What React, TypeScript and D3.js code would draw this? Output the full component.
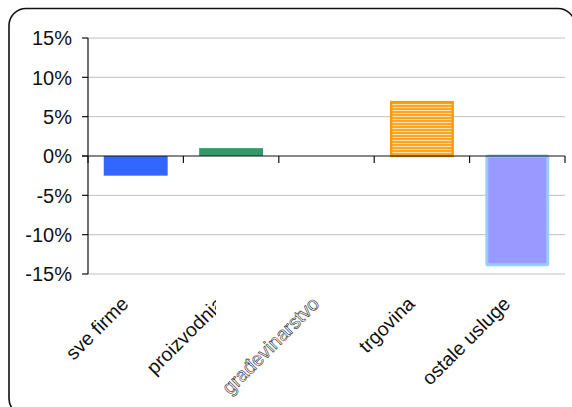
import React from "react";
import * as d3 from "d3";

const categories = ["sve firme", "proizvodnja", "građevinarstvo", "trgovina", "ostale usluge"];
const values = [-2.5, 1.0, 0.0, 7.0, -14.0];
const yTicks = [15, 10, 5, 0, -5, -10, -15];

const W = 572;
const H = 407;
const plot = { left: 88, right: 565, top: 38, bottom: 274 };

export default function App() {
  const x = d3
    .scaleBand<string>()
    .domain(categories)
    .range([plot.left, plot.right])
    .paddingInner(0.33)
    .paddingOuter(0.165);
  const cell = d3.scaleBand<string>().domain(categories).range([plot.left, plot.right]).padding(0);
  const y = d3.scaleLinear().domain([-15, 15]).range([plot.bottom, plot.top]);
  const font = "Liberation Sans, Arial, sans-serif";

  const boundaries = [...categories.map((c) => cell(c) as number), plot.right];

  return (
    <svg
      width={W}
      height={H}
      style={{ position: "absolute", left: 0, top: 0, background: "#fff" }}
    >
      <defs>
        <pattern id="stripes" width="4" height="3" patternUnits="userSpaceOnUse">
          <rect width="4" height="3" fill="#ffe0b0" />
          <rect width="4" height="2" fill="#ffa526" />
        </pattern>
        <clipPath id="clipLbl1" clipPathUnits="userSpaceOnUse">
          <rect x={0} y={0} width={216} height={H} />
        </clipPath>
      </defs>
      <rect x={9} y={8.5} width={566} height={407} rx={17} ry={17} fill="#fff" stroke="#111" strokeWidth={1.6} />

      {yTicks
        .filter((t) => t !== 0)
        .map((t) => (
          <line key={"g" + t} x1={plot.left} x2={plot.right} y1={y(t)} y2={y(t)} stroke="#c0c0c0" strokeWidth={1} />
        ))}

      {categories.map((c, i) => {
        const v = values[i];
        if (v === 0) return null;
        const bx = x(c) as number;
        const bw = x.bandwidth();
        const y0 = Math.min(y(0), y(v));
        const h = Math.abs(y(v) - y(0));
        if (i === 0) return <rect key={c} x={bx} y={y0} width={bw} height={h} fill="#3366ff" />;
        if (i === 1) return <rect key={c} x={bx} y={y0} width={bw} height={h} fill="#339966" />;
        if (i === 3)
          return (
            <rect key={c} x={bx + 1.2} y={y0 + 1.2} width={bw - 2.4} height={h - 1.2} fill="url(#stripes)" stroke="#ff9900" strokeWidth={2.4} />
          );
        return (
          <rect key={c} x={bx + 1.5} y={y0} width={bw - 3} height={h - 1.5} fill="#9999ff" stroke="#99ccff" strokeWidth={3} rx={1} />
        );
      })}

      <line x1={plot.left} x2={plot.left} y1={plot.top} y2={plot.bottom} stroke="#111" strokeWidth={1.2} />
      {yTicks.map((t) => (
        <g key={"t" + t}>
          <line x1={plot.left - 6} x2={plot.left} y1={y(t)} y2={y(t)} stroke="#111" strokeWidth={1.2} />
          <text x={72} y={y(t)} dy="0.36em" textAnchor="end" fontFamily={font} fontSize={20} fill="#111">
            {t + "%"}
          </text>
        </g>
      ))}

      <line x1={plot.left - 6} x2={plot.right} y1={y(0)} y2={y(0)} stroke="#111" strokeWidth={1.2} />
      {boundaries.map((b, i) => (
        <line key={"b" + i} x1={b} x2={b} y1={y(0)} y2={y(0) + 7} stroke="#111" strokeWidth={1.2} />
      ))}

      {categories.map((c, i) => {
        const cx = (cell(c) as number) + cell.bandwidth() / 2 - 6;
        const cy = 305;
        const isGarbled = i === 2;
        return (
          <g key={"l" + c} clipPath={i === 1 ? "url(#clipLbl1)" : undefined}>
            <text
              transform={`translate(${cx},${cy}) rotate(-45)`}
              textAnchor="end"
              fontFamily={font}
              fontSize={19.5}
              fill={isGarbled ? "#fff" : "#111"}
              stroke={isGarbled ? "#333" : "none"}
              strokeWidth={isGarbled ? 0.6 : 0}
            >
              {c}
            </text>
          </g>
        );
      })}
    </svg>
  );
}
